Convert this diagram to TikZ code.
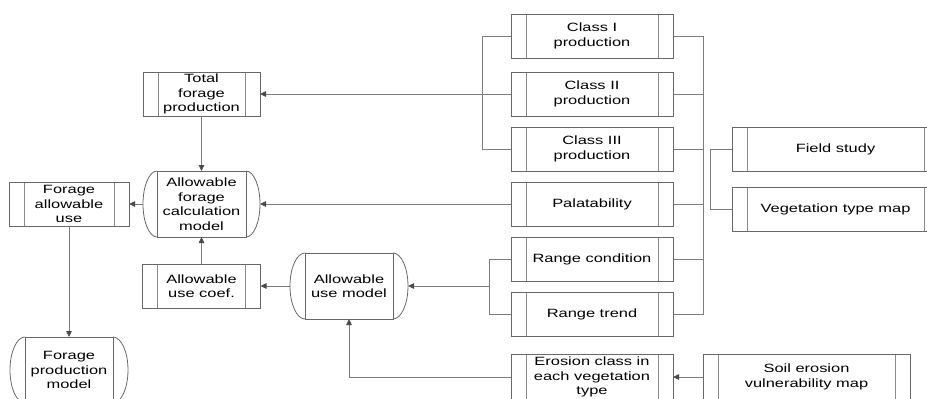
\documentclass[tikz,border=0pt]{standalone}
\usepackage{fontspec}
\setmainfont{Liberation Sans}[FakeStretch=1.37]
\usetikzlibrary{arrows.meta}
\definecolor{boxcol}{HTML}{686868}
\definecolor{innercol}{HTML}{8A8A8A}
\definecolor{linecol}{HTML}{7C7C7C}
\definecolor{tipcol}{HTML}{4A4A4A}
\newcommand\termarcs[3]{%
  \draw[boxline] (#1.north west) .. controls +({-0.552*#2},0) and +(0,{-0.552*#3}) .. ([xshift=-#2pt]#1.west)
    .. controls +(0,{0.552*#3}) and +({-0.552*#2},0) .. (#1.south west);
  \draw[boxline] (#1.north east) .. controls +({0.552*#2},0) and +(0,{-0.552*#3}) .. ([xshift=#2pt]#1.east)
    .. controls +(0,{0.552*#3}) and +({0.552*#2},0) .. (#1.south east);
}
\tikzset{
  boxline/.style={draw=boxcol, line width=0.8pt},
  txt/.style={font=\fontsize{12}{14.5}\selectfont, text=black, align=center, inner sep=0pt, outer sep=0pt},
  proc/.style={txt, rectangle, boxline, fill=white,
    path picture={
      \draw[innercol, line width=0.8pt] ([xshift=15pt]path picture bounding box.north west) -- ([xshift=15pt]path picture bounding box.south west);
      \draw[innercol, line width=0.8pt] ([xshift=-15pt]path picture bounding box.north east) -- ([xshift=-15pt]path picture bounding box.south east);
    }},
  term/.style={txt, rectangle, boxline, fill=white},
  conn/.style={draw=linecol, line width=0.8pt},
  arr/.style={conn, -{Triangle[length=6pt,width=5.5pt,color=tipcol]}},
}
\begin{document}
\begin{tikzpicture}[x=1pt,y=-1pt]
\useasboundingbox (0,0) rectangle (927,399);
\clip (0,0) rectangle (927,399);

% left part
\node[proc, minimum width=117pt, minimum height=44pt] (tfp) at (201.5,94) {Total\\forage\\production};
\node[term, minimum width=89pt, minimum height=66pt] (calc) at (201.5,204) {Allowable\\forage\\calculation\\model};
\termarcs{calc}{14}{33}
\node[proc, minimum width=120pt, minimum height=44pt] (fau) at (69,204) {Forage\\allowable\\use};
\node[proc, minimum width=118pt, minimum height=44pt] (coef) at (201.5,286) {Allowable\\use coef.};
\node[term, minimum width=88pt, minimum height=66pt] (um) at (349,286) {Allowable\\use model};
\termarcs{um}{15}{33}
\node[term, minimum width=88pt, minimum height=66pt] (fpm) at (69,370) {Forage\\production\\model};
\termarcs{fpm}{15}{33}

% right column
\node[proc, minimum width=162pt, minimum height=44pt] (c1) at (592,36) {Class I\\production};
\node[proc, minimum width=162pt, minimum height=44pt] (c2) at (592,94) {Class II\\production};
\node[proc, minimum width=162pt, minimum height=44pt] (c3) at (592,149) {Class III\\production};
\node[proc, minimum width=162pt, minimum height=44pt] (pal) at (592,204) {Palatability};
\node[proc, minimum width=162pt, minimum height=44pt] (rc) at (592,259) {Range condition};
\node[proc, minimum width=162pt, minimum height=44pt] (rt) at (592,314) {Range trend};
\node[proc, minimum width=162pt, minimum height=46pt] (ero) at (592,377) {Erosion class in\\each vegetation\\type};

\node[proc, minimum width=207pt, minimum height=44pt] (fs) at (835.5,149) {Field study};
\node[proc, minimum width=207pt, minimum height=44pt] (veg) at (835.5,209) {Vegetation type map};
\node[proc, minimum width=207pt, minimum height=46pt] (soil) at (806.5,377) {Soil erosion\\vulnerability map};

% junction coordinates
\coordinate (busL) at (482,0);
\coordinate (busR) at (703,0);
\coordinate (busF) at (710,0);
\coordinate (busG) at (489,0);
\coordinate (calcR) at ([xshift=14pt]calc.east);
\coordinate (calcL) at ([xshift=-14pt]calc.west);
\coordinate (umR) at ([xshift=15pt]um.east);
\coordinate (umL) at ([xshift=-15pt]um.west);

% class group -> total forage production
\draw[conn] (c1.west) -- (c1.west -| busL) -- (c3.west -| busL) -- (c3.west);
\draw[arr] (c2.west) -- (tfp.east);

% right bus
\draw[conn] (c1.east) -- (c1.east -| busR) -- (rt.east -| busR) -- (rt.east);
\draw[conn] (c2.east) -- (c2.east -| busR);
\draw[conn] (c3.east) -- (c3.east -| busR);
\draw[conn] (pal.east) -- (pal.east -| busR);
\draw[conn] (rc.east) -- (rc.east -| busR);

% field / vegetation
\draw[conn] (fs.west) -- (fs.west -| busF) -- (veg.west -| busF) -- (veg.west);

% palatability -> calc model
\draw[arr] (pal.west) -- (calcR);

% range group -> use model
\draw[conn] (rc.west) -- (rc.west -| busG) -- (rt.west -| busG) -- (rt.west);
\draw[arr] (umR -| busG) -- (umR);

% erosion -> use model
\draw[arr] (ero.west) -| (um.south);
\draw[arr] (soil.west) -- (ero.east);

% left flows
\draw[arr] (tfp.south) -- (calc.north);
\draw[arr] (coef.north) -- (calc.south);
\draw[arr] (umL) -- (coef.east);
\draw[arr] (calcL) -- (fau.east);
\draw[arr] (fau.south) -- (fpm.north);
\end{tikzpicture}
\end{document}
